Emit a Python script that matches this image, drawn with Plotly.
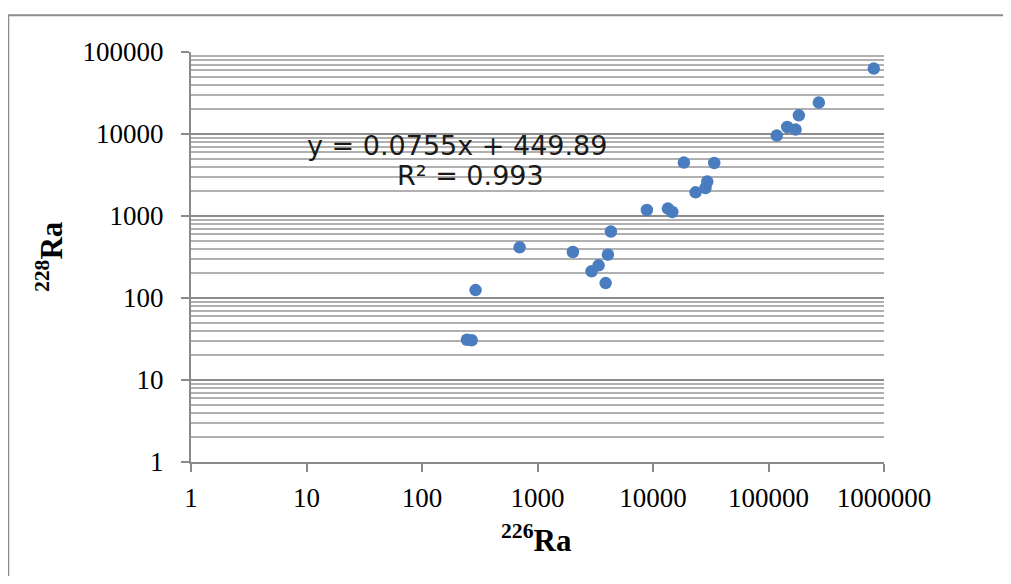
import plotly.graph_objects as go

# Data (log-log scatter)
ra226 = [245, 269, 291, 700, 2025, 2940, 3380, 3890, 4070, 4320,
         8850, 13460, 14690, 18500, 23380, 28500, 29500, 33900,
         118000, 145300, 171500, 183200, 272800, 816500]
ra228 = [31, 30.5, 125, 415, 364, 212, 250, 152, 338, 645,
         1183, 1231, 1119, 4480, 1945, 2195, 2628, 4430,
         9560, 12170, 11320, 16900, 24150, 62800]

x_ticks = [1, 10, 100, 1000, 10000, 100000, 1000000]
x_tick_labels = ["1", "10", "100", "1000", "10000", "100000", "1000000"]
y_ticks = [1, 10, 100, 1000, 10000, 100000]
y_tick_labels = ["1", "10", "100", "1000", "10000", "100000"]

equation_text = "y = 0.0755x + 449.89"
r2_text = "R² = 0.993"

fig = go.Figure()
fig.add_trace(go.Scatter(
    x=ra226, y=ra228, mode="markers",
    marker=dict(size=12.5, color="#4A7DBF", line=dict(width=0)),
    showlegend=False,
))

axis_gray = "#8a8a8a"
tick_font = dict(family="Liberation Serif, Times New Roman, serif", size=27, color="#000000")

fig.update_xaxes(
    type="log", range=[0, 6],
    tickvals=x_ticks, ticktext=x_tick_labels,
    showgrid=False, zeroline=False,
    showline=True, linecolor=axis_gray, linewidth=2,
    ticks="outside", ticklen=8, tickwidth=2, tickcolor=axis_gray,
    tickfont=tick_font, ticklabelstandoff=3,
)
fig.update_yaxes(
    type="log", range=[0, 5],
    tickvals=y_ticks, ticktext=y_tick_labels,
    showgrid=True, gridcolor="#8c8c8c", gridwidth=1.5,
    zeroline=False,
    showline=True, linecolor=axis_gray, linewidth=2,
    ticks="outside", ticklen=8, tickwidth=2, tickcolor=axis_gray,
    tickfont=tick_font, ticklabelstandoff=12,
    minor=dict(showgrid=True, gridcolor="#b0b0b0", gridwidth=1.5,
               dtick="D1", ticks=""),
)

eq_font = dict(family="DejaVu Sans, Liberation Sans, sans-serif", size=27, color="#1a1a1a")
fig.add_annotation(
    x=0.3837, y=0.773, xref="paper", yref="paper",
    text=equation_text, showarrow=False, font=eq_font,
    xanchor="center", yanchor="middle",
)
fig.add_annotation(
    x=0.4032, y=0.699, xref="paper", yref="paper",
    text=r2_text, showarrow=False, font=eq_font,
    xanchor="center", yanchor="middle",
)

title_font = dict(family="Liberation Serif, Times New Roman, serif", size=31, color="#000000")
fig.add_annotation(
    x=0.4987, y=-0.186, xref="paper", yref="paper",
    text="<b><sup>226</sup>Ra</b>", showarrow=False, font=title_font,
    xanchor="center", yanchor="middle",
)
fig.add_annotation(
    x=-0.2038, y=0.5017, xref="paper", yref="paper",
    text="<b><sup>228</sup>Ra</b>", showarrow=False, font=title_font,
    textangle=-90, xanchor="center", yanchor="middle",
)

# outer chart-area border
fig.add_shape(
    type="rect", xref="paper", yref="paper",
    x0=-0.2637, x1=1.25, y0=-0.45, y1=1.0895,
    line=dict(color="#8c8c8c", width=2), fillcolor="rgba(0,0,0,0)",
    layer="below",
)

fig.update_layout(
    width=995, height=568,
    margin=dict(l=183, r=119, t=44, b=114),
    paper_bgcolor="#ffffff", plot_bgcolor="#ffffff",
)

fig.write_html("out.html")
